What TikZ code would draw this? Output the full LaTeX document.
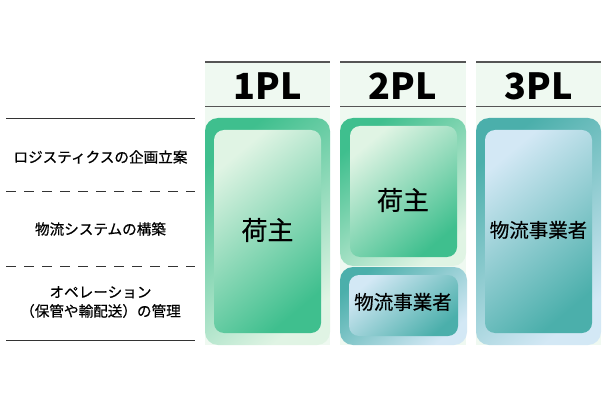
\documentclass[tikz,border=0pt]{standalone}
\usepackage{fontspec}
\newfontfamily\cjk{Noto Sans CJK JP}
\newfontfamily\cjkm[FakeBold=0.5]{Noto Sans CJK JP}
\definecolor{panelbg}{HTML}{EFF9F1}
\definecolor{gdark}{HTML}{3FBF8E}
\definecolor{glight}{HTML}{E0F4E4}
\definecolor{tdark}{HTML}{4BAFAB}
\definecolor{tlight}{HTML}{D3E8F5}
\definecolor{hline}{HTML}{555555}
\definecolor{lline}{HTML}{333333}
\tikzset{
  panel/.style={fill=panelbg, draw=none, inner sep=0pt, anchor=north west},
  goutbox/.style={draw=none, rounded corners=13pt, inner sep=0pt, top color=gdark, bottom color=glight, shading angle=40},
  ginbox/.style={draw=none, rounded corners=10pt, inner sep=0pt, top color=glight, bottom color=gdark, shading angle=40},
  toutbox/.style={draw=none, rounded corners=13pt, inner sep=0pt, top color=tdark, bottom color=tlight, shading angle=40},
  tinbox/.style={draw=none, rounded corners=10pt, inner sep=0pt, top color=tlight, bottom color=tdark, shading angle=40},
  headtxt/.style={font=\cjk\bfseries\fontsize{36}{40}\selectfont, text=black, inner sep=0pt},
  bigtxt/.style={font=\cjkm\fontsize{26}{30}\selectfont, text=black, inner sep=0pt},
  midtxt/.style={font=\cjkm\fontsize{19.5}{23}\selectfont, text=black, inner sep=0pt},
  lbltxt/.style={font=\cjkm\fontsize{14.6}{19}\selectfont, text=black, align=center, inner sep=0pt},
  hrule/.style={draw=hline, line width=1.3pt},
  lsolid/.style={draw=lline, line width=0.9pt},
  ldash/.style={draw=lline, line width=0.9pt, dash pattern=on 10pt off 8pt},
}
\begin{document}
\begin{tikzpicture}[x=1pt,y=-1pt]
\useasboundingbox (0,0) rectangle (610,406);
\fill[white] (0,0) rectangle (610,406);
% panels
\node[panel, minimum width=125pt, minimum height=283pt] (p1) at (205,62) {};
\node[panel, minimum width=126pt, minimum height=283pt] (p2) at (340,62) {};
\node[panel, minimum width=125pt, minimum height=283pt] (p3) at (476,62) {};
% header lines
\coordinate (h1a) at (205,62); \coordinate (h1b) at (330,62);
\coordinate (h1c) at (205,106.5); \coordinate (h1d) at (330,106.5);
\coordinate (h2a) at (340,62); \coordinate (h2b) at (466,62);
\coordinate (h2c) at (340,106.5); \coordinate (h2d) at (466,106.5);
\coordinate (h3a) at (476,62); \coordinate (h3b) at (601,62);
\coordinate (h3c) at (476,106.5); \coordinate (h3d) at (601,106.5);
\draw[hrule] (h1a) -- (h1b); \draw[hrule] (h1c) -- (h1d);
\draw[hrule] (h2a) -- (h2b); \draw[hrule] (h2c) -- (h2d);
\draw[hrule] (h3a) -- (h3b); \draw[hrule] (h3c) -- (h3d);
% headers
\node[headtxt] (t1) at (267.5,86) {1PL};
\node[headtxt] (t2) at (403,86) {2PL};
\node[headtxt] (t3) at (538.5,86) {3PL};
% 1PL box
\node[goutbox, minimum width=125pt, minimum height=227pt] (o1) at (267.5,231.5) {};
\node[ginbox, minimum width=107pt, minimum height=203pt] (i1) at (267.5,231.5) {};
\node[bigtxt] (n1) at (267.5,230) {荷主};
% 2PL boxes
\node[goutbox, minimum width=126pt, minimum height=148pt] (o2) at (403,192) {};
\node[ginbox, minimum width=107pt, minimum height=131pt] (i2) at (403.5,191.5) {};
\node[bigtxt] (n2) at (403,200) {荷主};
\node[toutbox, minimum width=127pt, minimum height=78pt] (o2b) at (403.5,306) {};
\node[tinbox, minimum width=109pt, minimum height=61pt] (i2b) at (403.5,305.5) {};
\node[midtxt] (n2b) at (403,302) {物流事業者};
% 3PL box
\node[toutbox, minimum width=125pt, minimum height=227pt] (o3) at (538.5,231.5) {};
\node[tinbox, minimum width=107pt, minimum height=203pt] (i3) at (538.5,231.5) {};
\node[midtxt] (n3) at (538.5,230) {物流事業者};
% left rows
\coordinate (l1a) at (6,118); \coordinate (l1b) at (195,118);
\coordinate (l2a) at (6,191); \coordinate (l2b) at (195,191);
\coordinate (l3a) at (6,266); \coordinate (l3b) at (195,266);
\coordinate (l4a) at (6,340); \coordinate (l4b) at (195,340);
\draw[lsolid] (l1a) -- (l1b);
\draw[ldash] (l2a) -- (l2b);
\draw[ldash] (l3a) -- (l3b);
\draw[lsolid] (l4a) -- (l4b);
\node[lbltxt] (r1) at (100.5,157) {ロジスティクスの企画立案};
\node[lbltxt] (r2) at (100.5,229) {物流システムの構築};
\node[lbltxt] (r3) at (100.5,302) {オペレーション\\（保管や輸配送）の管理};
\end{tikzpicture}
\end{document}
